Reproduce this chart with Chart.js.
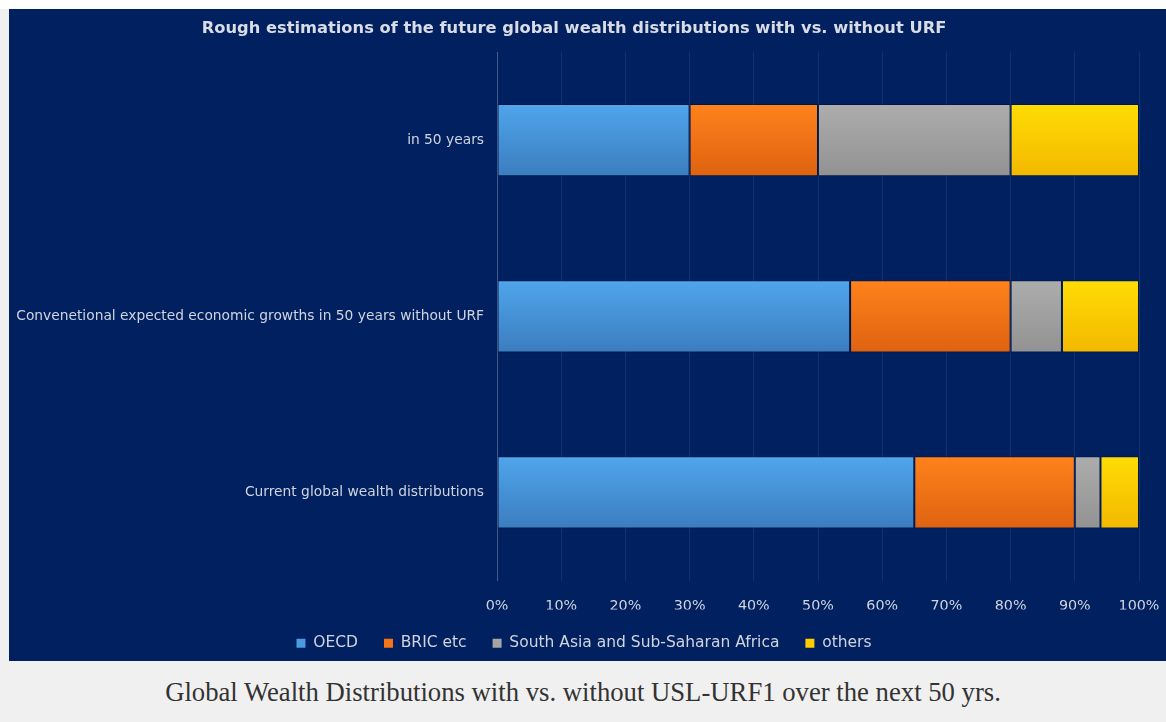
<!DOCTYPE html>
<html>
<head>
<meta charset="utf-8">
<script src="https://cdn.jsdelivr.net/npm/chart.js@4.4.1/dist/chart.umd.min.js"></script>
<style>
  html, body { margin: 0; padding: 0; background: #f0f0f0; }
  body { width: 1166px; height: 722px; position: relative; overflow: hidden; }
  #topStrip { position: absolute; left: 0; top: 0; width: 1166px; height: 9px; background: #ffffff; }
  #panel { position: absolute; left: 9px; top: 9px; width: 1157px; height: 652px; background: #002060; }
  #caption {
    position: absolute; left: 0; top: 677px; width: 1166px; text-align: center;
    font-family: "Liberation Serif", "Times New Roman", serif; font-size: 26.7px; color: #333;
  }
</style>
</head>
<body>
<div id="topStrip"></div>
<div id="panel"><canvas id="wealthChart" width="1157" height="652"></canvas></div>
<div id="caption">Global Wealth Distributions with vs. without USL-URF1 over the next 50 yrs.</div>

<script>
// categories (top to bottom) and shares in %
const categories = [
  'in 50 years',
  'Convenetional expected economic growths in 50 years without URF',
  'Current global wealth distributions'
];
const oecd = [30, 55, 65];
const bric = [20, 25, 25];
const southAsiaAfrica = [30, 8, 4];
const others = [20, 12, 6];
const xTickLabels = ['0%', '10%', '20%', '30%', '40%', '50%', '60%', '70%', '80%', '90%', '100%'];

const textColor = '#d0d4de';
const labelFont = '"DejaVu Sans", "Noto Sans", sans-serif';

// vertical gradient per bar, lighter on top like the Excel bevel look
function barGradient(top, bottom) {
  return function (ctx) {
    const chart = ctx.chart;
    const y = chart.scales.y;
    if (!y || ctx.dataIndex === undefined) return top;
    const band = Math.abs(y.getPixelForValue(1) - y.getPixelForValue(0));
    const t = band * 0.41;
    const yc = y.getPixelForValue(ctx.dataIndex);
    const g = chart.ctx.createLinearGradient(0, yc - t / 2, 0, yc + t / 2);
    g.addColorStop(0, top);
    g.addColorStop(1, bottom);
    return g;
  };
}

const datasets = [
  { label: 'OECD', data: oecd, top: '#50a5ec', bottom: '#3b7dbf', legend: '#4a9be0' },
  { label: 'BRIC etc', data: bric, top: '#ff821c', bottom: '#df6210', legend: '#f57418' },
  { label: 'South Asia and Sub-Saharan Africa', data: southAsiaAfrica, top: '#adadad', bottom: '#929292', legend: '#a5a5a5' },
  { label: 'others', data: others, top: '#ffdc05', bottom: '#f2b800', legend: '#ffcc00' }
].map(d => ({
  label: d.label,
  data: d.data,
  backgroundColor: barGradient(d.top, d.bottom),
  borderColor: 'rgba(0,0,0,0.28)',
  borderWidth: 1,
  borderSkipped: false,
  barPercentage: 0.41,
  categoryPercentage: 1.0,
  legendColor: d.legend
}));

const chart = new Chart(document.getElementById('wealthChart'), {
  type: 'bar',
  data: { labels: categories, datasets: datasets },
  options: {
    indexAxis: 'y',
    responsive: false,
    animation: false,
    layout: { padding: { left: 0, right: 27, top: 0, bottom: 0 } },
    plugins: {
      title: {
        display: true,
        text: 'Rough estimations of the future global wealth distributions with vs. without URF',
        color: '#d9dce4',
        font: { family: labelFont, size: 16.3, weight: 'bold' },
        padding: { top: 10, bottom: 13.5 }
      },
      legend: {
        position: 'bottom',
        labels: {
          color: textColor,
          font: { family: labelFont, size: 15.5 },
          boxWidth: 9,
          boxHeight: 9,
          padding: 26,
          generateLabels(chart) {
            return chart.data.datasets.map((ds, i) => ({
              text: ds.label,
              fillStyle: ds.legendColor,
              strokeStyle: ds.legendColor,
              lineWidth: 0,
              fontColor: textColor,
              datasetIndex: i,
              hidden: false
            }));
          }
        }
      },
      tooltip: { enabled: false }
    },
    scales: {
      x: {
        stacked: true,
        min: 0,
        max: 100,
        ticks: {
          stepSize: 10,
          color: textColor,
          font: { family: labelFont, size: 14.3 },
          padding: 0,
          callback: (v, i) => xTickLabels[i]
        },
        grid: { color: 'rgba(255,255,255,0.08)', drawTicks: true, tickLength: 17, tickColor: 'rgba(0,0,0,0)' },
        border: { display: false },
        afterFit(axis) { axis.height = 29; }
      },
      y: {
        stacked: true,
        ticks: {
          color: textColor,
          font: { family: labelFont, size: 13.8 },
          padding: 13
        },
        grid: { display: false, drawTicks: false },
        border: { display: true, color: 'rgba(255,255,255,0.2)' },
        afterFit(axis) { axis.width = 488; }
      }
    }
  }
});

// the legend sits a little right of centre in the original
const legendBox = chart.legend;
const drawLegend = legendBox.draw.bind(legendBox);
legendBox.draw = function (area) {
  chart.ctx.save();
  chart.ctx.translate(10, 0);
  drawLegend(area);
  chart.ctx.restore();
};
chart.draw();
</script>
</body>
</html>
